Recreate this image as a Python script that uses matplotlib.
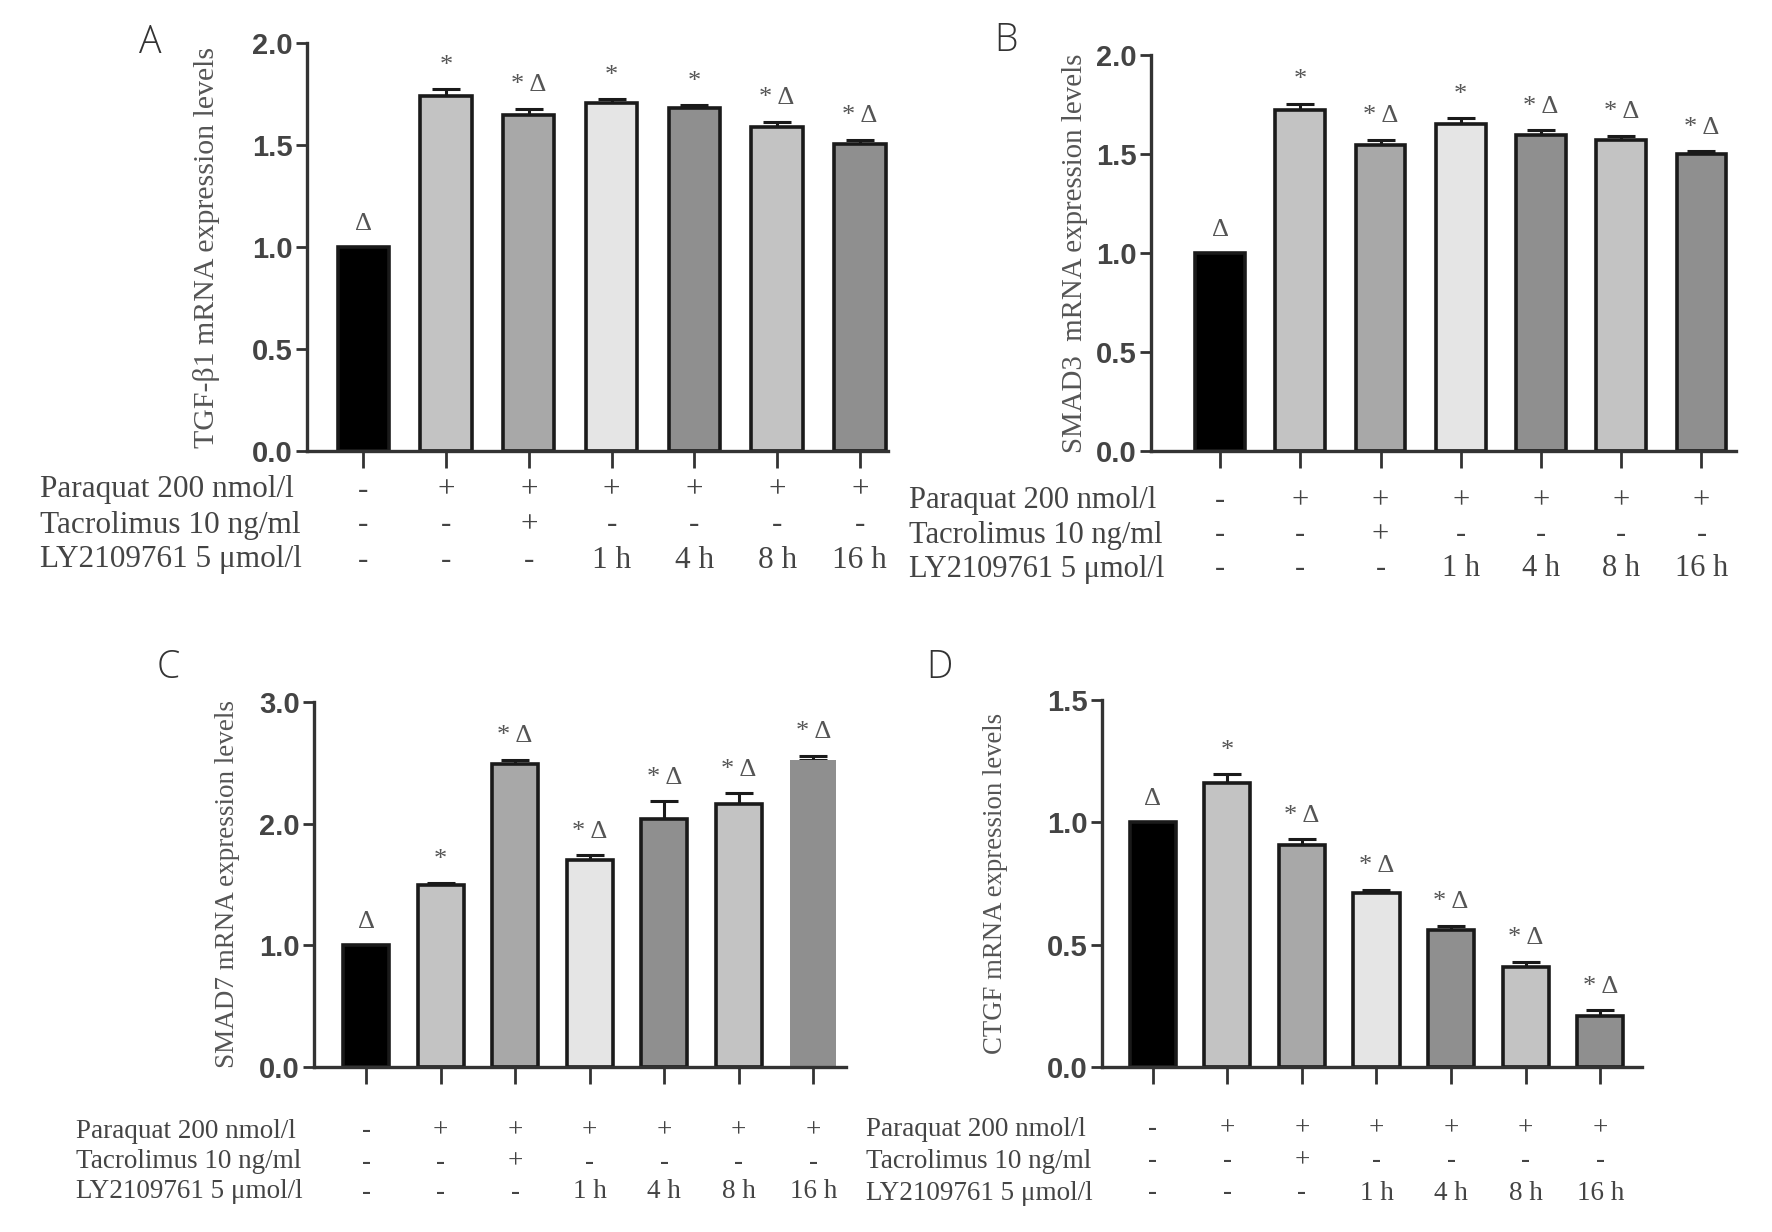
import matplotlib
matplotlib.use("Agg")
import matplotlib.pyplot as plt
from matplotlib.transforms import blended_transform_factory

W, H = 1772, 1232

# treatment table under every panel
row_names = ["Paraquat 200 nmol/l", "Tacrolimus 10 ng/ml", "LY2109761 5 μmol/l"]
paraquat_row = ["-", "+", "+", "+", "+", "+", "+"]
tacrolimus_row = ["-", "-", "+", "-", "-", "-", "-"]
ly_row = ["-", "-", "-", "1 h", "4 h", "8 h", "16 h"]

bar_colors = ["#000000", "#c3c3c3", "#a8a8a8", "#e5e5e5", "#8f8f8f", "#c3c3c3", "#8f8f8f"]

# A: TGF-b1
tgfb1 = [1.0, 1.74, 1.645, 1.705, 1.68, 1.59, 1.505]
tgfb1_err = [0, 0.033, 0.033, 0.02, 0.015, 0.025, 0.02]
tgfb1_sig = ["Δ", "*", "* Δ", "*", "*", "* Δ", "* Δ"]

# B: SMAD3
smad3 = [1.0, 1.72, 1.545, 1.65, 1.595, 1.57, 1.502]
smad3_err = [0, 0.033, 0.026, 0.031, 0.025, 0.022, 0.012]
smad3_sig = ["Δ", "*", "* Δ", "*", "* Δ", "* Δ", "* Δ"]

# C: SMAD7
smad7 = [1.0, 1.495, 2.49, 1.70, 2.04, 2.16, 2.52]
smad7_err = [0, 0.015, 0.035, 0.04, 0.145, 0.09, 0.04]
smad7_sig = ["Δ", "*", "* Δ", "* Δ", "* Δ", "* Δ", "* Δ"]

# D: CTGF
ctgf = [1.0, 1.16, 0.908, 0.713, 0.558, 0.41, 0.208]
ctgf_err = [0, 0.036, 0.022, 0.012, 0.019, 0.02, 0.023]
ctgf_sig = ["Δ", "*", "* Δ", "* Δ", "* Δ", "* Δ", "* Δ"]

SERIF = ["Liberation Serif", "DejaVu Serif"]
SANS = ["Liberation Sans", "DejaVu Sans"]

fig = plt.figure(figsize=(W / 100, H / 100), dpi=100)


def panel(box, letter, letter_xy, vals, errs, sig, ymax, yticks, ylabel, ylabel_x,
          xlim, row_x, row_ys, ylab_size, row_size, last_edge=True):
    x0, y0, x1, y1 = box
    ax = fig.add_axes([x0 / W, 1 - y1 / H, (x1 - x0) / W, (y1 - y0) / H])
    pos = list(range(len(vals)))
    bars = ax.bar(pos, vals, width=0.62, color=bar_colors, edgecolor="#1a1a1a",
                  linewidth=2.6, zorder=2)
    if not last_edge:
        bars[-1].set_linewidth(0)
    ax.errorbar(pos[1:], vals[1:], yerr=[[0] * 6, errs[1:]], fmt="none",
                ecolor="#1a1a1a", elinewidth=2.2, capsize=10, capthick=2.2, zorder=1)
    for i, s in enumerate(sig):
        ax.annotate(s, (i, vals[i] + errs[i]), xytext=(0, 9), textcoords="offset points",
                    ha="center", va="bottom", fontsize=19, family=SERIF, color="#555555")
    ax.set_xlim(*xlim)
    ax.set_ylim(0, ymax)
    ax.set_yticks(yticks)
    ax.set_yticklabels([f"{t:.1f}" for t in yticks], family=SANS, fontsize=21,
                       fontweight="bold", color="#444444")
    ax.set_xticks(pos)
    ax.tick_params(axis="x", length=12, width=2, color="#333333", labelbottom=False)
    ax.tick_params(axis="y", length=8, width=2, color="#333333", pad=2)
    for side in ["top", "right"]:
        ax.spines[side].set_visible(False)
    for side in ["left", "bottom"]:
        ax.spines[side].set_linewidth(2.4)
        ax.spines[side].set_color("#333333")

    fig.text(ylabel_x / W, 1 - (y0 + y1) / 2 / H, ylabel, rotation=90, ha="center",
             va="center", family=SERIF, fontsize=ylab_size, color="#555555")
    fig.text(letter_xy[0] / W, 1 - letter_xy[1] / H, letter, ha="center", va="center",
             family=["Open Sans", "DejaVu Sans"], fontweight="light", fontsize=27,
             color="#333333")

    tr = blended_transform_factory(ax.transData, fig.transFigure)
    for name, row, ry in zip(row_names, [paraquat_row, tacrolimus_row, ly_row], row_ys):
        fig.text(row_x / W, 1 - ry / H, name, ha="left", va="center", family=SERIF,
                 fontsize=row_size, color="#444444")
        for i, s in enumerate(row):
            ax.text(i, 1 - ry / H, s, transform=tr, ha="center", va="center",
                    family=SERIF, fontsize=row_size, color="#444444", clip_on=False)
    return ax


panel((307, 43, 888, 451), "A", (150, 43), tgfb1, tgfb1_err, tgfb1_sig, 2.0,
      [0.0, 0.5, 1.0, 1.5, 2.0], "TGF-β1 mRNA expression levels", 206,
      (-0.68, 6.34), 40, [490, 525, 560], 21.5, 22.5)
panel((1151, 55, 1736, 451), "B", (1006, 41), smad3, smad3_err, smad3_sig, 2.0,
      [0.0, 0.5, 1.0, 1.5, 2.0], "SMAD3  mRNA expression levels", 1075,
      (-0.86, 6.43), 909, [501, 535, 569], 20.8, 22)
panel((314, 702, 846, 1067), "C", (168, 668), smad7, smad7_err, smad7_sig, 3.0,
      [0.0, 1.0, 2.0, 3.0], "SMAD7 mRNA expression levels", 227,
      (-0.70, 6.44), 76, [1131, 1162, 1192], 19.5, 19.5, last_edge=False)
panel((1102, 700, 1642, 1067), "D", (939, 668), ctgf, ctgf_err, ctgf_sig, 1.5,
      [0.0, 0.5, 1.0, 1.5], "CTGF mRNA expression levels", 996,
      (-0.68, 6.56), 866, [1129, 1161, 1193], 19.3, 19.5)

fig.savefig("out.png", dpi=100, facecolor="white")
